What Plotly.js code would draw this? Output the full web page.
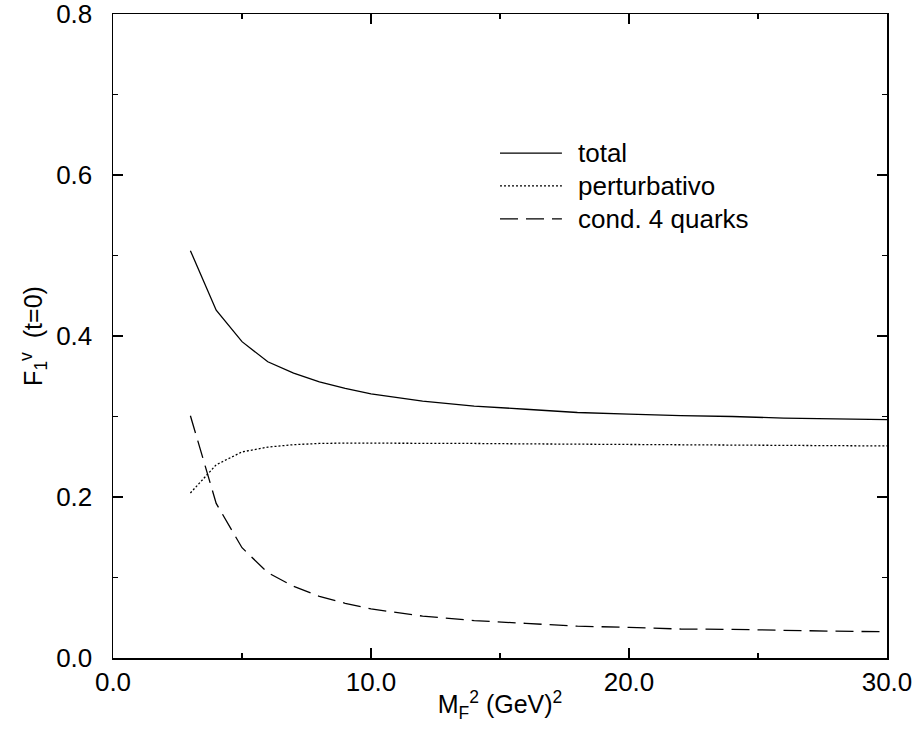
<!DOCTYPE html>
<html>
<head>
<meta charset="utf-8">
<script src="https://cdn.plot.ly/plotly-3.0.1.min.js"></script>
<style>html,body{margin:0;padding:0;background:#fff;}#chart{width:918px;height:740px;}</style>
</head>
<body>
<div id="chart"></div>
<script>
// M_F^2 (GeV)^2
const mf2 = [3, 4, 5, 6, 7, 8, 9, 10, 12, 14, 16, 18, 20, 22, 24, 26, 28, 30];
// total
const total = [0.506, 0.432, 0.393, 0.368, 0.354, 0.343, 0.335, 0.328, 0.319, 0.313, 0.309, 0.305, 0.303, 0.301, 0.300, 0.298, 0.297, 0.296];
// perturbativo
const perturbativo = [0.205, 0.240, 0.256, 0.262, 0.265, 0.2665, 0.267, 0.267, 0.267, 0.2665, 0.266, 0.2655, 0.265, 0.2648, 0.2645, 0.264, 0.2637, 0.2634];
// cond. 4 quarks
const cond4q = [0.301, 0.192, 0.137, 0.106, 0.089, 0.0765, 0.068, 0.061, 0.052, 0.0465, 0.043, 0.0395, 0.038, 0.036, 0.0355, 0.034, 0.0333, 0.0326];

const seriesNames = ['total', 'perturbativo', 'cond. 4 quarks'];
const xTickVals = [0, 10, 20, 30];
const xTickText = ['0.0', '10.0', '20.0', '30.0'];
const yTickVals = [0, 0.2, 0.4, 0.6, 0.8];
const yTickText = ['0.0', '0.2', '0.4', '0.6', '0.8'];

const font = 'Liberation Sans, Arial, Helvetica, sans-serif';
const dashes = ['solid', '2px,2px', '18px,8px'];

const traces = [
  {x: mf2, y: total, name: seriesNames[0], mode: 'lines', line: {color: '#000', width: 1.3, dash: dashes[0]}},
  {x: mf2, y: perturbativo, name: seriesNames[1], mode: 'lines', line: {color: '#000', width: 1.3, dash: dashes[1]}},
  {x: mf2, y: cond4q, name: seriesNames[2], mode: 'lines', line: {color: '#000', width: 1.3, dash: dashes[2]}}
];

// hand-drawn legend (line samples + labels) in paper coordinates
const legX0 = 0.5, legX1 = 0.58, legTextX = 0.598;
const legY = [0.784, 0.733, 0.682];
const shapes = seriesNames.map((n, i) => ({
  type: 'line', xref: 'paper', yref: 'paper',
  x0: legX0, x1: legX1, y0: legY[i], y1: legY[i],
  line: {color: '#000', width: 1.3, dash: dashes[i]}
}));
const annotations = seriesNames.map((n, i) => ({
  text: n, xref: 'paper', yref: 'paper', x: legTextX, y: legY[i],
  xanchor: 'left', yanchor: 'middle', showarrow: false,
  font: {family: font, size: 26, color: '#000'}
}));

const axisCommon = {
  showline: true, linecolor: '#000', linewidth: 1.5, mirror: 'ticks',
  ticks: 'inside', ticklen: 10, tickwidth: 1.3, tickcolor: '#000',
  showgrid: false, zeroline: false, ticklabeloverflow: 'allow',
  tickfont: {family: font, size: 26, color: '#000'}
};

const layout = {
  width: 918, height: 740,
  margin: {l: 113, r: 31, t: 14, b: 82},
  paper_bgcolor: '#fff', plot_bgcolor: '#fff',
  font: {family: font, color: '#000'},
  showlegend: false,
  shapes: shapes,
  annotations: annotations,
  xaxis: Object.assign({}, axisCommon, {
    range: [0, 30], tickmode: 'array', tickvals: xTickVals, ticktext: xTickText,
    ticklabelstandoff: 0,
    minor: {dtick: 5, tick0: 0, ticks: 'inside', ticklen: 5, tickcolor: '#000', tickwidth: 1.2},
    title: {text: 'M<sub>F</sub><sup>2</sup> (GeV)<sup>2</sup>', font: {family: font, size: 25, color: '#000'}, standoff: 0}
  }),
  yaxis: Object.assign({}, axisCommon, {
    range: [0, 0.8], tickmode: 'array', tickvals: yTickVals, ticktext: yTickText,
    ticklabelstandoff: 14,
    minor: {dtick: 0.1, tick0: 0, ticks: 'inside', ticklen: 5, tickcolor: '#000', tickwidth: 1.2},
    title: {text: 'F<sub>1</sub><sup>v</sup>  (t=0)', font: {family: font, size: 25, color: '#000'}, standoff: 6}
  })
};

Plotly.newPlot('chart', traces, layout, {displayModeBar: false, staticPlot: true});
</script>
</body>
</html>
